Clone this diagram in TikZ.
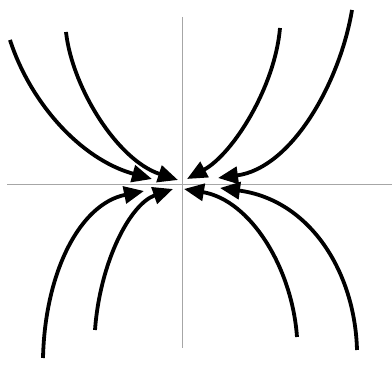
\documentclass[tikz,border=0pt]{standalone}
\usetikzlibrary{arrows.meta}
\begin{document}
\begin{tikzpicture}[x=1pt,y=1pt,
  axis/.style={draw=black!35,line width=0.8pt},
  flow/.style={draw=black,line width=3.8pt,-{Triangle[length=20pt,width=17pt]}}]
\useasboundingbox (0,0) rectangle (392,372);
% axes
\coordinate (vt) at (182,355);
\coordinate (vb) at (182,24);
\coordinate (hl) at (7,188);
\coordinate (hr) at (392,188);
\draw[axis] (vt) -- (vb);
\draw[axis] (hl) -- (hr);
% top curves
\coordinate (a1) at (10,332);  \coordinate (b1) at (152,193);
\coordinate (a2) at (66,340);  \coordinate (b2) at (178,192);
\coordinate (a3) at (280,344); \coordinate (b3) at (187,193);
\coordinate (a4) at (352,362); \coordinate (b4) at (218,194);
\draw[flow] (a1) .. controls (30,270) and (80,213) .. (b1);
\draw[flow] (a2) .. controls (72,285) and (117,212) .. (b2);
\draw[flow] (a3) .. controls (275,285) and (233,218) .. (b3);
\draw[flow] (a4) .. controls (340,290) and (292,204) .. (b4);
% bottom curves
\coordinate (c1) at (43,14);   \coordinate (d1) at (144,181);
\coordinate (c2) at (95,42);   \coordinate (d2) at (173,183);
\coordinate (c3) at (297,35);  \coordinate (d3) at (184,183);
\coordinate (c4) at (357,22);  \coordinate (d4) at (220,184);
\draw[flow] (c1) .. controls (45,100) and (80,168) .. (d1);
\draw[flow] (c2) .. controls (100,110) and (130,168) .. (d2);
\draw[flow] (c3) .. controls (292,105) and (250,172) .. (d3);
\draw[flow] (c4) .. controls (355,100) and (310,172) .. (d4);
\end{tikzpicture}
\end{document}
